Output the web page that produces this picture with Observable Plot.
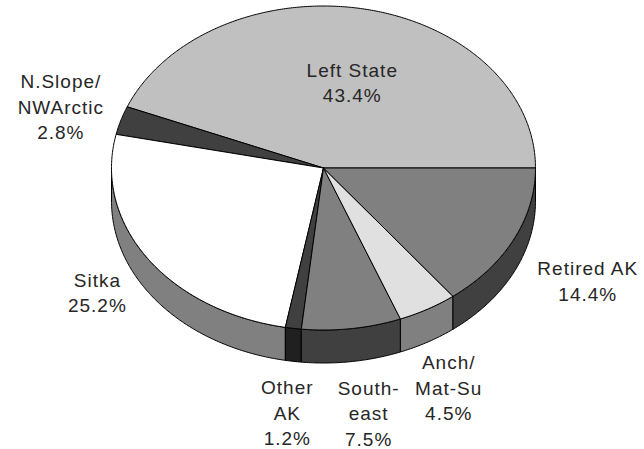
<!DOCTYPE html>
<html><head><meta charset="utf-8">
<script src="https://cdn.jsdelivr.net/npm/d3@7"></script>
<script src="https://cdn.jsdelivr.net/npm/@observablehq/plot@0.6"></script>
<style>
html,body{margin:0;padding:0;background:#fff;}
#chart svg text{letter-spacing:1px;}
</style></head><body><div id="chart"></div>
<script>
// ---- data ----
const categories = ["Left State", "N.Slope/\nNWArctic", "Sitka", "Other\nAK", "South-\neast", "Anch/\nMat-Su", "Retired AK"];
const shares = [43.4, 2.8, 25.2, 1.2, 7.5, 4.5, 14.4];

// ---- styles / layout ----
const topColors  = ["#c0c0c0", "#404040", "#ffffff", "#404040", "#808080", "#e0e0e0", "#808080"];
const sideColors = ["#808080", "#202020", "#808080", "#202020", "#404040", "#808080", "#404040"];
// label nudges (px) from the rim point at each slice's mid-angle
const labelNudge = [[-12, 93], [-60, 19], [-50, 54], [-6, 117], [17, 117], [21, 111], [74, 61.5]];

const W = 644, H = 449, CX = 323, CY = 167.5, RX = 212, RY = 162, DEPTH = 33;
const dep = DEPTH / RY;

const total = d3.sum(shares);
let cum = 0;
const slices = shares.map((v, i) => {
  const a0 = cum / total * 2 * Math.PI; cum += v;
  const a1 = cum / total * 2 * Math.PI;
  return {i, name: categories[i], value: v, a0, a1};
});

function arcAngles(a0, a1) {
  const n = Math.max(2, Math.ceil((a1 - a0) / (Math.PI / 360)) + 1);
  return d3.range(n).map(k => a0 + (a1 - a0) * k / (n - 1));
}

const walls = [];
for (const s of slices) {
  const b0 = Math.max(s.a0, Math.PI), b1 = Math.min(s.a1, 2 * Math.PI);
  if (b1 <= b0) continue;
  const arc = arcAngles(b0, b1);
  const pts = [...arc.map(a => [Math.cos(a), Math.sin(a)]),
               ...arc.slice().reverse().map(a => [Math.cos(a), Math.sin(a) - dep])];
  pts.push(pts[0]);
  pts.forEach(([x, y]) => walls.push({x, y, z: s.name, fill: sideColors[s.i]}));
}

const tops = [];
for (const s of slices) {
  const pts = [[0, 0], ...arcAngles(s.a0, s.a1).map(a => [Math.cos(a), Math.sin(a)]), [0, 0]];
  pts.forEach(([x, y]) => tops.push({x, y, z: s.name, fill: topColors[s.i]}));
}

const labels = slices.map(s => {
  const m = (s.a0 + s.a1) / 2;
  const [nx, ny] = labelNudge[s.i];
  return {x: Math.cos(m) + nx / RX, y: Math.sin(m) - ny / RY, text: s.name + "\n" + s.value.toFixed(1) + "%"};
});

const chart = Plot.plot({
  width: W, height: H, margin: 0,
  x: {domain: [-1, 1], range: [CX - RX, CX + RX], axis: null},
  y: {domain: [-1, 1], range: [CY + RY, CY - RY], axis: null},
  color: {type: "identity"},
  marks: [
    Plot.line(walls, {x: "x", y: "y", z: "z", fill: "fill", stroke: "#000", strokeWidth: 1, strokeLinejoin: "round"}),
    Plot.line(tops, {x: "x", y: "y", z: "z", fill: "fill", stroke: "#000", strokeWidth: 1, strokeLinejoin: "round"}),
    Plot.text(labels, {x: "x", y: "y", text: "text", lineAnchor: "bottom", lineHeight: 25.5 / 19,
      fontSize: 19, fontFamily: "Liberation Sans, Arial, sans-serif", fill: "#262626"})
  ]
});
document.getElementById("chart").appendChild(chart);
</script>
</body></html>
